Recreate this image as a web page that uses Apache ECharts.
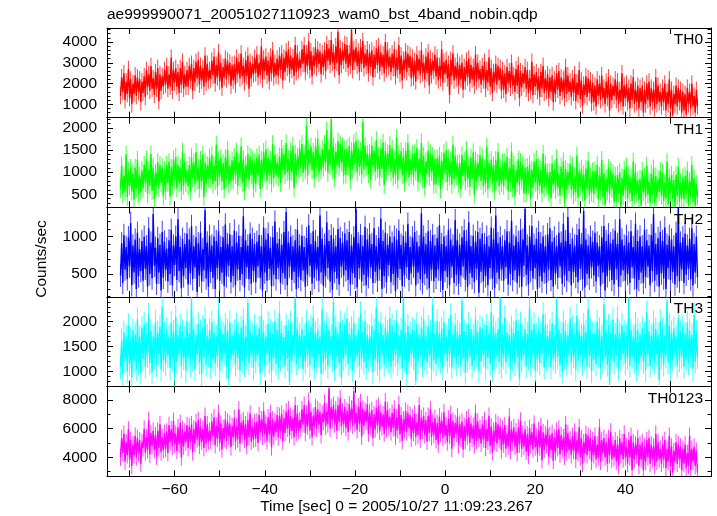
<!DOCTYPE html>
<html><head><meta charset="utf-8">
<script src="https://cdn.jsdelivr.net/npm/echarts@6/dist/echarts.min.js"></script>
<style>html,body{margin:0;padding:0;background:#fff}#c{width:717px;height:516px}</style>
</head><body><div id="c"></div><script>
const chartTitle = 'ae999990071_20051027110923_wam0_bst_4band_nobin.qdp';
const xLabel = 'Time [sec] 0 = 2005/10/27 11:09:23.267';
const yLabel = 'Counts/sec';
const bandNames = ['TH0', 'TH1', 'TH2', 'TH3', 'TH0123'];
const bandColors = ['#ff0000', '#00ff00', '#0000ff', '#00ffff', '#ff00ff'];
const bandErrors = [400, 200, 150, 240, 580];
const xMin = -75, xMax = 59;
const yMins = [357, 203, 195, 690, 2680];
const yMaxs = [4676, 2237, 1390, 2498, 8930];
const tStart = -72, tStep = 0.25;

const th0 = [
1400,2300,1600,2500,1200,2100,1500,2700,1300,2200,1000,2000,1500,2400,1400,2300,1600,2200,1100,2100,
1550,2350,1350,2650,1850,2450,1650,2850,1750,2250,1450,2550,1750,2750,1150,2450,1650,2350,1850,2650,
1950,2850,1750,2450,1850,3250,1650,2650,2050,2750,1850,2550,1550,2750,1950,3050,1750,2450,1850,2650,
1850,2850,2150,2950,1650,2750,2050,3050,2250,3150,1950,2850,2150,2750,1850,3350,2050,2950,2150,2650,
2200,3100,2400,3300,2000,2900,2300,3500,2100,3000,1800,2800,2300,3200,2200,3100,2400,3000,1900,2900,
2150,2950,1950,3250,2450,3050,2250,3450,2350,2850,2050,3150,2350,3350,1750,3050,2250,2950,2450,3250,
2500,3400,2300,3000,2400,3800,2200,3200,2600,3300,2400,3100,2100,3300,2500,3600,2300,3000,2400,3200,
2350,3350,2650,3450,2150,3250,2550,3550,2750,3650,2450,3350,2650,3250,2350,3850,2550,3450,2650,3150,
2750,3650,2950,3850,2550,3450,2850,4050,2650,3550,2350,3350,2850,3750,2750,3650,2950,3550,2450,3450,
2800,3600,2600,3900,3100,3700,2900,4100,3000,3500,2700,3800,3000,4500,2400,3700,2900,3600,3100,3900,
2950,3850,2750,3450,2850,4600,2650,3650,3050,3750,2850,3550,2550,3750,2950,4050,2750,3450,2850,3650,
2500,3500,2800,3600,2300,3400,2700,3700,2900,3800,2600,3500,2800,3400,2500,4000,2700,3600,2800,3300,
2550,3450,2750,3650,2350,3250,2650,3850,2450,3350,2150,3150,2650,3550,2550,3450,2750,3350,2250,3250,
2300,3100,2100,3400,2600,3200,2400,3600,2500,3000,2200,3300,2500,3500,1900,3200,2400,3100,2600,3400,
2350,3250,2150,2850,2250,3650,2050,3050,2450,3150,2250,2950,1450,3150,2350,3450,2150,2850,2250,3050,
1900,2900,2200,3000,1700,2800,2100,3100,2300,3200,2000,2900,2200,2800,1900,3400,2100,3000,2200,2700,
1950,2850,2150,3050,1750,2650,2050,3250,1850,2750,1550,2550,2050,2950,1950,2850,2150,2750,1650,2650,
1700,2500,1500,2800,2000,2600,1800,3000,1900,2400,1600,2700,1900,2900,1300,2600,1800,2500,2000,2800,
1750,2650,1550,2250,1650,3050,1450,2450,1850,2550,1650,2350,1350,2550,1750,2850,1550,2250,1650,2450,
1300,2300,1600,2400,1100,2200,1500,2500,1700,2600,1400,2300,1600,2200,1300,2800,1500,2400,1600,2100,
1350,2250,1550,2450,1150,2050,1450,2650,1250,2150,950,1950,1450,2350,1350,2250,1550,2150,1050,2050,
1100,1900,900,2200,1400,2000,1200,2400,1300,1800,1000,2100,1300,2300,700,2000,1200,1900,1400,2200,
1200,2100,1000,1700,1100,2500,900,1900,1300,2000,1100,1800,800,2000,1200,2300,1000,1700,1100,1900,
800,1800,1100,1900,600,1700,1000,2000,1200,2100,900,1800,1100,1700,800,2300,1000,1900,1100,1600,
900,1800,1100,2000,700,1600,1000,2200,800,1700,500,1500,1000,1900,900,1800,1100,1700,600,1600,
700,1500,500,1800,1000,1600,800,2000,900,1400,600,1700,900
];
const th1 = [
620,1160,500,920,560,1400,440,1040,680,1100,560,980,380,1100,620,1280,500,920,560,1040,
630,1170,750,1290,510,1050,690,1410,570,1110,390,990,690,1230,630,1170,750,1110,450,1050,
570,1170,750,1230,450,1110,690,1290,810,1350,630,1170,750,1110,570,1470,690,1230,750,1050,
680,1160,560,1340,860,1220,740,1460,800,1100,620,1280,800,1400,440,1220,740,1160,860,1340,
850,1390,730,1150,790,1630,670,1270,910,1330,790,1210,610,1330,850,1510,730,1150,790,1270,
810,1350,930,1470,690,1230,870,1590,750,1290,570,1170,870,1410,810,1350,930,1290,630,1230,
740,1340,920,1400,620,1280,860,1460,980,1520,800,1340,920,1280,740,1640,860,1400,920,1220,
880,1360,760,1540,1060,1420,940,1660,1000,1300,820,1480,1000,1600,640,1420,940,1360,1060,1540,
1100,1640,980,1400,1040,2050,920,1520,1160,1580,1040,1460,860,1580,1100,1760,980,1400,1040,1520,
1100,1640,1220,1950,980,1520,1160,2200,1040,1580,860,1460,1160,1700,1100,1640,1220,1580,920,1520,
940,1540,1120,1600,820,1480,1060,1660,1180,1720,1000,1540,1120,1480,940,2150,1060,1600,1120,1420,
950,1430,830,1610,1130,1490,1010,1730,1070,1370,890,1550,1070,1670,710,1490,1010,1430,1130,1610,
1000,1540,880,1300,940,1780,820,1420,1060,1480,940,1360,760,1480,1000,1660,880,1300,940,1420,
890,1430,1010,1550,770,1310,950,1670,830,1370,650,1250,950,1490,890,1430,1010,1370,710,1310,
720,1320,900,1380,600,1260,840,1440,960,1500,780,1320,900,1260,720,1620,840,1380,900,1200,
730,1210,610,1390,910,1270,790,1510,850,1150,670,1330,850,1450,490,1270,790,1210,910,1390,
800,1340,680,1100,740,1580,620,1220,860,1280,740,1160,560,1280,800,1460,680,1100,740,1220,
690,1230,810,1350,570,1110,750,1470,630,1170,450,1050,750,1290,690,1230,810,1170,510,1110,
520,1120,700,1180,400,1060,640,1240,760,1300,580,1120,700,1060,520,1420,640,1180,700,1000,
530,1010,410,1190,710,1070,590,1310,650,950,470,1130,650,1250,290,1070,590,1010,710,1190,
600,1140,480,900,540,1380,420,1020,660,1080,540,960,360,1080,600,1260,480,900,540,1020,
500,1040,620,1160,380,920,560,1280,440,980,260,860,560,1100,500,1040,620,980,320,920,
340,940,520,1000,220,880,460,1060,580,1120,400,940,520,880,340,1240,460,1000,520,820,
370,850,250,1030,550,910,430,1150,490,790,310,970,490,1090,300,910,430,850,550,1030,
460,1000,340,760,400,1240,280,880,520,940,400,820,220,940,460,1120,340,760,400,880,
380,920,500,1040,260,800,440,1160,320,860,240,740,440
];
const th2 = [
480,910,380,1020,560,860,430,990,600,1180,350,880,520,960,300,1050,470,830,540,940,
410,1000,570,870,330,1110,500,920,440,1300,610,850,370,980,520,890,280,1060,450,930,
560,840,400,950,500,1090,350,880,620,1000,420,1230,540,860,310,970,470,900,580,1040,
360,960,510,1140,430,870,590,990,260,910,480,1050,400,830,550,1350,440,920,330,1010,
530,880,450,1000,300,940,580,1070,410,860,520,990,340,1160,470,900,610,1030,390,870,
470,1080,350,920,560,1010,420,860,500,1270,320,950,590,880,430,1040,370,970,540,900,
390,930,600,1020,450,870,280,1120,520,960,410,1040,570,850,340,990,490,1200,430,910,
580,970,380,890,510,1060,440,1330,350,920,600,1000,420,870,530,950,300,1090,460,880,
420,1010,550,860,330,980,490,1150,610,900,370,1070,450,940,560,860,410,1280,520,970,
340,890,470,1190,580,940,400,1020,290,970,530,870,440,1100,360,980,600,920,480,1040,
550,950,420,1060,360,880,510,990,450,1360,320,910,580,1020,400,870,490,1130,350,960,
460,1030,590,900,380,1110,530,870,410,980,560,1240,300,940,470,1050,390,890,620,1000,
390,920,500,1000,270,960,450,1080,570,890,340,1010,480,920,590,1170,420,860,510,990,
600,1060,350,930,520,870,430,1310,380,1000,500,900,440,1070,310,940,560,1020,400,880,
450,980,560,1150,410,900,290,1000,540,870,460,1090,350,960,600,880,380,1220,490,950,
370,890,480,990,600,1080,420,940,330,1190,510,870,450,1010,390,930,570,1060,250,970,
530,1040,400,900,470,1000,350,870,580,1120,440,960,310,1280,520,910,430,990,560,870,
410,950,590,1070,360,920,500,1210,420,880,550,1000,380,930,470,1090,330,960,610,1370,
490,880,360,1000,540,1140,440,890,580,970,300,1060,470,910,400,1000,520,870,380,1030,
560,1110,420,930,330,990,510,870,450,1050,600,920,370,1170,480,940,410,1260,540,900,
350,970,530,880,460,1020,390,1100,570,900,430,1340,320,960,500,880,440,1000,590,930,
480,1050,400,920,610,870,340,990,520,1140,280,940,470,1030,550,910,420,960,360,1080,
570,900,330,1230,480,960,550,880,410,1010,500,920,380,1070,590,860,440,1170,300,940,
420,1000,520,870,380,1090,460,950,600,880,350,1020,540,1300,410,900,490,980,330,1060,
510,940,440,1120,300,890,580,1010,420,960,530,870,360,1050,470,1380,400,920,560,990,
380,1040,490,880,570,970,430,1110,350,900,520,1000,460
];
const th3 = [
1080,1620,950,1780,1200,1700,1000,1930,1150,1660,880,1820,1210,1740,1040,2050,1170,1690,970,1880,
1250,1960,1090,1750,1320,2140,1160,1820,980,1700,1280,2000,1120,1780,1350,1900,1030,2300,1220,1760,
1150,1850,1310,1700,1060,1980,1240,1790,870,2100,1190,1730,1330,1920,1100,1810,1260,1680,1000,2010,
1290,1760,1120,2450,1230,1840,1050,1730,1340,1960,1170,1800,940,1890,1270,2060,1130,1710,1320,1830,
1080,1990,1250,1780,1150,1700,1310,2230,1020,1860,1200,1750,1350,1940,1090,1820,840,1990,1240,1720,
1330,1800,1140,1940,1270,1760,1010,1880,1210,2040,1110,1690,1290,2380,1160,1810,1310,1740,1060,1910,
1200,1730,1320,1880,960,2120,1240,1790,1130,1700,1340,1970,1180,1820,1000,1750,1260,2010,1150,1840,
1070,2180,1230,1770,1310,1690,1100,1930,1250,1810,770,1980,1200,1740,1330,2460,1160,1860,1280,1720,
1300,1850,1040,1720,1190,2000,1320,1800,1120,1900,1280,2090,1060,1770,1210,1830,1340,1700,950,2250,
1170,1780,1260,1950,1090,1840,1340,1710,1220,2400,1030,1890,1300,1760,1150,1990,870,1810,1250,1940,
1330,2060,1150,1750,1280,1870,1020,1980,1190,1720,1310,1840,1110,2170,1270,1790,1180,2010,1060,1730,
1230,1700,1340,1910,980,1820,1240,2280,1160,1770,1020,1960,1320,1730,1130,1880,1290,1800,1200,2070,
1090,1930,1210,1790,1330,2000,1150,1730,1280,1840,1060,2470,1230,1780,930,1920,1180,1760,1340,1850,
1260,1810,800,1950,1190,1740,1320,1880,1120,2050,1250,1720,1170,1900,1310,1790,1040,2340,1220,1770,
1140,2010,1290,1760,1180,1850,1060,1990,1330,1700,1200,1830,1340,2130,1080,1750,1270,1940,1150,1800,
1320,1740,1130,2420,1250,1800,970,1730,1210,1960,1290,1850,1100,1720,1230,2050,1340,1790,1010,1890,
1190,1860,1330,1710,1060,1920,1270,1780,1150,2200,1020,1890,1250,1760,1310,1840,1180,2480,1090,1730,
1280,2090,1170,1790,1320,1730,1050,1880,1240,1770,1140,2030,1290,1810,850,1960,1220,1700,1330,1850,
1100,1750,1260,2290,1130,1830,1300,1950,1010,1740,1230,1860,1160,1780,1340,2150,1070,1920,1240,1710,
1330,1810,1080,1970,1250,1700,1190,2440,1290,1850,1120,1760,980,1990,1270,1800,1140,1730,1320,2060,
1170,1890,1300,1740,1040,2120,1210,1820,1330,1720,1150,1940,1260,1790,1090,2260,1310,1850,1000,1760,
1240,1780,1140,2000,1320,1850,1070,1700,1200,2350,1280,1810,1130,1920,760,1780,1250,2040,1180,1740,
1310,2080,1050,1760,1230,1930,1340,1790,1160,1720,1270,2480,1110,1830,1290,1700,1200,1960,1030,1820,
1150,1740,1280,1870,1190,1760,1020,2190,1320,1800,1100,1710,1260,1990,1170,1850,1340,1740,830,2010,
1270,1850,1130,1720,1300,2410,1180,1930,1060,1780,1240,1860,1330,1700,1120,2070,1220,1790,1290,1900,
1090,1760,1250,1980,1160,1820,1310,1730,1040,2140,1200,1790,1280
];
const th0123 = [
4000,5350,4300,5650,3700,5050,4150,5950,3850,5200,3400,4900,4150,5500,4000,5350,4300,5200,3550,5050,
4650,6000,4350,5400,4500,6600,4200,5700,4800,5850,4500,5550,4050,5850,4650,6300,4350,5400,4500,5700,
4600,5800,4300,6250,5050,5950,4750,6550,4900,5650,4450,6100,4900,6400,4000,5950,4750,5800,5050,6250,
4650,6150,5100,6300,4350,6000,4950,6450,5250,6600,4800,6150,5100,6000,4650,6900,4950,6300,5100,5850,
5150,6500,5450,6800,4850,6200,5300,7100,5000,6350,4550,6050,5300,6650,5150,6500,5450,6350,4700,6200,
5400,6750,5100,6150,5250,7350,4950,6450,5550,6600,5250,6300,4800,6600,5400,7050,5100,6150,5250,6450,
5300,6500,5000,6950,5750,6650,5450,7250,5600,6350,5150,6800,5600,7100,4700,6650,5450,6500,5750,6950,
5400,6900,5850,7050,5100,6750,5700,7200,6000,7350,5550,6900,5850,6750,5400,7650,5700,7050,5850,6600,
6000,7350,6300,7650,5700,7050,6150,7950,5850,7200,5400,6900,6150,7500,6000,7350,6300,7200,5550,7050,
6450,7800,6150,7200,6300,8800,6000,7500,6600,7650,6300,7350,5850,7650,6450,8100,6150,7200,6300,7500,
6050,7250,5750,7700,6500,7400,6200,8600,6350,7100,5900,7550,6350,7850,5450,7400,6200,7250,6500,7700,
5650,7150,6100,7300,5350,7000,5950,7450,6250,7600,5800,7150,6100,7000,5650,7900,5950,7300,6100,6850,
5750,7100,6050,7400,5450,6800,5900,7700,5600,6950,5150,6650,5900,7250,5750,7100,6050,6950,5300,6800,
5700,7050,5400,6450,5550,7650,5250,6750,5850,6900,5550,6600,5100,6900,5700,7350,5400,6450,5550,6750,
5200,6400,4900,6850,5650,6550,5350,7150,5500,6250,5050,6700,5500,7000,4600,6550,5350,6400,5650,6850,
4850,6350,5300,6500,4550,6200,5150,6650,5450,6800,5000,6350,5300,6200,4850,7100,5150,6500,5300,6050,
4950,6300,5250,6600,4650,6000,5100,6900,4800,6150,4350,5850,5100,6450,4950,6300,5250,6150,4500,6000,
4900,6250,4600,5650,4750,6850,4450,5950,5050,6100,4750,5800,4300,6100,4900,6550,4600,5650,4750,5950,
4400,5600,4100,6050,4850,5750,4550,6350,4700,5450,4250,5900,4700,6200,3800,5750,4550,5600,4850,6050,
4050,5550,4500,5700,3750,5400,4350,5850,4650,6000,4200,5550,4500,5400,4050,6300,4350,5700,4500,5250,
4150,5500,4450,5800,3850,5200,4300,6100,4000,5350,3550,5050,4300,5650,4150,5500,4450,5350,3700,5200,
4150,5500,3850,4900,4000,6100,3700,5200,4300,5350,4000,5050,3550,5350,4150,5800,3850,4900,4000,5200,
3700,4900,3400,5350,4150,5050,3850,5650,4000,4750,3550,5200,4000,5500,3100,5050,3850,4900,4150,5350,
3400,4900,3850,5050,3100,4750,3700,5200,4000,5350,3550,4900,3850,4750,3400,5650,3700,5050,3850,4600,
3550,4900,3850,5200,3250,4600,3700,5500,3400,4750,2950,4450,3700,5050,3550,4900,3850,4750,3100,4600,
3550,4900,3250,4300,3400,5500,3100,4600,3700,4750,3400,4450,2950
];
const bandValues = [th0, th1, th2, th3, th0123];

const FONT = "'Liberation Sans', Arial, Helvetica, sans-serif";
const FS = 15.5;
const gridLeft = 107, gridRight = 6, gridTop = 28, panelH = 89.66;
const ySplitNumbers = [4, 4, 2, 4, 3];
const yMinorSplits = [5, 5, 5, 5, 2];
const fmt = v => String(v).replace('-', '\u2212');

const grids = [], xAxes = [], yAxes = [], series = [], graphics = [];
for (let i = 0; i < 5; i++) {
  const top = gridTop + i * panelH;
  grids.push({ left: gridLeft, right: gridRight, top: top, height: panelH, containLabel: false });
  const isLast = i === 4;
  const axLine = { show: true, onZero: false, lineStyle: { color: '#000', width: 1 } };
  const xBase = {
    type: 'value', gridIndex: i, min: xMin, max: xMax, splitNumber: 7,
    splitLine: { show: false }, axisLine: axLine,
    axisTick: { show: true, inside: true, length: 6, lineStyle: { color: '#000', width: 1 } },
    minorTick: { show: true, splitNumber: 2, length: 6, lineStyle: { color: '#000', width: 1 } },
    minorSplitLine: { show: false }
  };
  xAxes.push(Object.assign({}, xBase, {
    position: 'bottom',
    axisLabel: { show: isLast, showMinLabel: false, showMaxLabel: false, margin: 5,
      fontSize: FS, fontFamily: FONT, color: '#000', formatter: fmt }
  }));
  xAxes.push(Object.assign({}, xBase, { position: 'top', axisLabel: { show: false } }));
  const yBase = {
    type: 'value', gridIndex: i, min: yMins[i], max: yMaxs[i], splitNumber: ySplitNumbers[i],
    splitLine: { show: false }, axisLine: axLine,
    axisTick: { show: true, inside: true, length: 6, lineStyle: { color: '#000', width: 1 } },
    minorTick: { show: true, splitNumber: yMinorSplits[i], length: 3.5, lineStyle: { color: '#000', width: 1 } },
    minorSplitLine: { show: false }
  };
  yAxes.push(Object.assign({}, yBase, {
    position: 'left',
    axisLabel: { show: true, showMinLabel: false, showMaxLabel: false, margin: 10,
      fontSize: FS, fontFamily: FONT, color: '#000', formatter: fmt }
  }));
  yAxes.push(Object.assign({}, yBase, { position: 'right', axisLabel: { show: false } }));

  const data = bandValues[i].map((v, k) => [tStart + k * tStep, v]);
  const err = bandErrors[i];
  const col = bandColors[i];
  series.push({
    type: 'custom', xAxisIndex: 2 * i, yAxisIndex: 2 * i, data: data, silent: true, z: 1,
    clip: true,
    renderItem: function (params, api) {
      const t = api.value(0), v = api.value(1);
      const p1 = api.coord([t, v - err]);
      const p2 = api.coord([t, v + err]);
      return { type: 'line', shape: { x1: p1[0], y1: p1[1], x2: p2[0], y2: p2[1] },
        style: { stroke: col, lineWidth: 1, opacity: 0.75 } };
    }
  });
  series.push({
    type: 'line', xAxisIndex: 2 * i, yAxisIndex: 2 * i, data: data, showSymbol: false,
    symbol: 'none', silent: true, z: 2,
    lineStyle: { color: col, width: 1.4 }
  });
  graphics.push({
    type: 'text', right: 717 - 703, top: top + 4, z: 10,
    style: { text: bandNames[i], fontSize: FS, fontFamily: FONT, fill: '#000' }
  });
}
graphics.push({
  type: 'text', left: 107, top: 7,
  style: { text: chartTitle, fontSize: FS, fontFamily: FONT, fill: '#000' }
});
graphics.push({
  type: 'text', x: 396.5, y: 507,
  style: { text: xLabel, fontSize: FS, fontFamily: FONT, fill: '#000', align: 'center', verticalAlign: 'middle' }
});
graphics.push({
  type: 'text', x: 42, y: 259, rotation: Math.PI / 2,
  style: { text: yLabel, fontSize: FS, fontFamily: FONT, fill: '#000', align: 'center', verticalAlign: 'middle' }
});

const chart = echarts.init(document.getElementById('c'), null, { renderer: 'canvas' });
chart.setOption({
  animation: false,
  backgroundColor: '#fff',
  grid: grids, xAxis: xAxes, yAxis: yAxes, series: series, graphic: graphics
});
</script></body></html>
